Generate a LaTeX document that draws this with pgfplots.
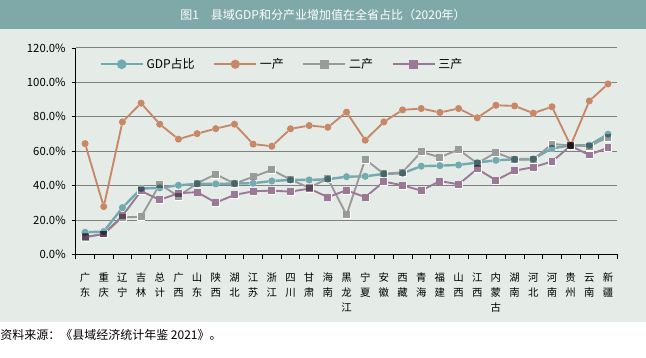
\documentclass[border=0pt]{standalone}
\usepackage{fontspec}
\setmainfont{Noto Sans CJK SC}
\usepackage{pgfplots}
\usepackage{pgfplotstable}
\pgfplotsset{compat=1.18}
\definecolor{banner}{HTML}{7FA9A8}
\definecolor{bgc}{HTML}{E5EBE7}
\definecolor{cgdp}{HTML}{72ABAF}
\definecolor{cone}{HTML}{C78868}
\definecolor{ctwo}{HTML}{9A9A9A}
\definecolor{cthree}{HTML}{9B7896}
\definecolor{gridc}{HTML}{808080}
\pgfplotstableread{
x gdp one two three
0 12.9 64.4 10.0 10.2
1 13.3 27.8 11.9 11.9
2 27.2 77.0 21.6 22.4
3 38.3 87.9 21.8 36.9
4 38.7 75.7 40.8 31.7
5 40.2 67.0 33.8 35.6
6 41.0 70.2 41.4 36.2
7 41.0 73.1 46.6 30.1
8 41.2 75.7 41.2 34.6
9 41.4 64.1 45.1 36.7
10 42.7 62.9 49.1 37.1
11 43.3 73.0 43.5 36.5
12 43.3 74.9 38.8 38.3
13 43.7 73.9 44.1 33.3
14 45.2 82.7 23.0 37.3
15 45.4 66.4 55.3 33.3
16 46.8 77.0 46.8 42.3
17 47.2 84.0 47.8 40.2
18 51.3 84.8 59.6 37.1
19 51.6 82.5 56.5 42.6
20 52.0 84.8 60.9 40.8
21 53.4 79.4 53.0 49.7
22 54.7 86.7 59.2 43.1
23 55.3 86.3 55.1 48.7
24 55.5 82.1 55.1 50.7
25 61.7 85.8 64.2 54.0
26 63.3 63.3 63.3 63.1
27 63.5 89.2 62.9 57.8
28 69.9 99.1 68.1 62.1
}\data
\begin{document}
\begin{tikzpicture}
\useasboundingbox (0,0) rectangle (484.5pt,267.75pt);
\fill[white] (0,0) rectangle (484.5pt,267.75pt);
\fill[bgc] (0,26.25pt) rectangle (484.5pt,246pt);
\fill[banner] (0,246pt) rectangle (484.5pt,267.75pt);
\node[white, font=\fontsize{9}{11}\selectfont] at (242.25pt,256.6pt) {图1\hspace{1em}县域GDP和分产业增加值在全省占比（2020年）};
\node[anchor=west, inner sep=0pt, font=\fontsize{9}{11}\selectfont] at (0pt,16.5pt) {资料来源：《县域经济统计年鉴 2021》。};
\begin{axis}[
  at={(56.8pt,76.9pt)}, anchor=south west,
  scale only axis, width=406.2pt, height=154.9pt,
  xmin=-0.5, xmax=28.5, ymin=0, ymax=120,
  axis lines=left, axis line style={-, black, line width=0.6pt},
  tick align=outside,
  xtick={0,...,28},
  xticklabels={{广\\东},{重\\庆},{辽\\宁},{吉\\林},{总\\计},{广\\西},{山\\东},{陕\\西},{湖\\北},{江\\苏},{浙\\江},{四\\川},{甘\\肃},{海\\南},{黑\\龙\\江},{宁\\夏},{安\\徽},{西\\藏},{青\\海},{福\\建},{山\\西},{江\\西},{内\\蒙\\古},{湖\\南},{河\\北},{河\\南},{贵\\州},{云\\南},{新\\疆}},
  xticklabel style={align=center, font=\fontsize{7.8}{11.25}\selectfont, yshift=-7.5pt},
  minor xtick={-0.5,0.5,...,28.5},
  every major x tick/.append style={draw=none},
  every minor x tick/.append style={black, line width=0.6pt},
  minor tick length=3.75pt,
  major tick length=3pt,
  ytick={0,20,...,120},
  yticklabels={0.0\%,20.0\%,40.0\%,60.0\%,80.0\%,100.0\%,120.0\%},
  yticklabel style={font=\fontsize{8.5}{10}\selectfont, xshift=-1pt},
  every major y tick/.append style={black, line width=0.6pt},
  ymajorgrids, grid style={gridc, line width=0.7pt},
  legend columns=4,
  legend style={at={(0.036,0.921)}, anchor=west, draw=none, fill=none,
    font=\fontsize{9}{11}\selectfont,
    /tikz/every even column/.append style={column sep=12pt}},
]
\addplot[cgdp, line width=1.8pt, mark=none,
  legend image code/.code={\draw[cgdp,line width=1.8pt] (0pt,0pt)--(31.5pt,0pt); \fill[cgdp] (15.75pt,0pt) circle (2.7pt);}]
  table[x=x,y=gdp]{\data};
\addlegendentry{GDP占比}
\addplot[cone, line width=1.4pt, mark=none,
  legend image code/.code={\draw[cone,line width=1.4pt] (0pt,0pt)--(31.5pt,0pt); \fill[cone] (15.75pt,0pt) circle (2.7pt);}]
  table[x=x,y=one]{\data};
\addlegendentry{一产}
\addplot[ctwo, line width=1.4pt, mark=none,
  legend image code/.code={\draw[ctwo,line width=1.4pt] (0pt,0pt)--(31.5pt,0pt); \fill[ctwo] (13.15pt,-2.6pt) rectangle (18.35pt,2.6pt);}]
  table[x=x,y=two]{\data};
\addlegendentry{二产}
\addplot[cthree, line width=1.4pt, mark=none,
  legend image code/.code={\draw[cthree,line width=1.4pt] (0pt,0pt)--(31.5pt,0pt); \fill[cthree] (13.15pt,-2.6pt) rectangle (18.35pt,2.6pt);}]
  table[x=x,y=three]{\data};
\addlegendentry{三产}
\addplot[forget plot, only marks, mark=*, mark size=2.7pt, mark options={fill=white, draw=white, line width=0.2pt}] table[x=x,y=gdp]{\data};
\addplot[forget plot, only marks, mark=*, mark size=2.7pt, mark options={fill=white, draw=white, line width=0.2pt}] table[x=x,y=one]{\data};
\addplot[forget plot, only marks, mark=square*, mark size=2.6pt, mark options={fill=white, draw=white, line width=0.2pt}] table[x=x,y=two]{\data};
\addplot[forget plot, only marks, mark=square*, mark size=2.6pt, mark options={fill=white, draw=white, line width=0.2pt}] table[x=x,y=three]{\data};
\addplot[forget plot, only marks, mark=*, mark size=2.7pt, mark options={fill=cgdp, draw=white, line width=0.2pt}, blend mode=multiply] table[x=x,y=gdp]{\data};
\addplot[forget plot, only marks, mark=*, mark size=2.7pt, mark options={fill=cone, draw=white, line width=0.2pt}, blend mode=multiply] table[x=x,y=one]{\data};
\addplot[forget plot, only marks, mark=square*, mark size=2.6pt, mark options={fill=ctwo, draw=white, line width=0.2pt}, blend mode=multiply] table[x=x,y=two]{\data};
\addplot[forget plot, only marks, mark=square*, mark size=2.6pt, mark options={fill=cthree, draw=white, line width=0.2pt}, blend mode=multiply] table[x=x,y=three]{\data};
\end{axis}
\end{tikzpicture}
\end{document}
